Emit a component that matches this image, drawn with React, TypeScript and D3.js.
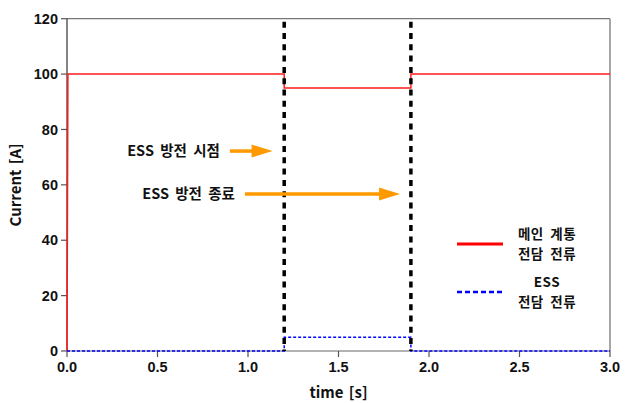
import React from "react";
import * as d3 from "d3";

// Step profile of the main-grid current and the ESS current
const mainTime = [0, 0.005, 1.2, 1.2, 1.9, 1.9, 3.0];
const mainCurrent = [0, 100, 100, 95, 95, 100, 100];
const essTime = [0, 1.2, 1.2, 1.9, 1.9, 3.0];
const essCurrent = [0, 0, 5, 5, 0, 0];

// Discharge start / end instants
const eventTimes = [1.2, 1.9];

const xTicks = [0, 0.5, 1.0, 1.5, 2.0, 2.5, 3.0];
const yTicks = [0, 20, 40, 60, 80, 100, 120];

// Annotation labels with arrows (data units)
const notes = [
  { label: "ESS 방전 시점", from: 0.9, to: 1.136, value: 72.2 },
  { label: "ESS 방전 종료", from: 0.983, to: 1.84, value: 56.7 },
];

const legendItems = [
  { lines: ["메인 계통", "전담 전류"], color: "#ff0000", dash: "none", width: 3 },
  { lines: ["ESS", "전담 전류"], color: "#0000ff", dash: "5,3", width: 2.5 },
];

const W = 625;
const H = 403;
const M = { left: 67, right: 15, top: 18.7, bottom: 52 };

const tickFont = "'Liberation Sans', Arial, sans-serif";
const krFont = "'Noto Sans CJK KR', 'Noto Sans', sans-serif";

export default function App() {
  const x = d3.scaleLinear().domain([0, 3]).range([M.left, W - M.right]);
  const y = d3.scaleLinear().domain([0, 120]).range([H - M.bottom, M.top]);

  const line = d3
    .line<[number, number]>()
    .x((d) => x(d[0]))
    .y((d) => y(d[1]));

  const mainPath = line(mainTime.map((t, i) => [t, mainCurrent[i]]))!;
  const essPath = line(essTime.map((t, i) => [t, essCurrent[i]]))!;

  const x0 = x(0);
  const x1 = x(3);
  const y0 = y(0);
  const y1 = y(120);

  return (
    <svg
      width={W}
      height={H}
      style={{ position: "absolute", left: 0, top: 0, background: "#fff" }}
    >
      {/* frame */}
      <line x1={x0} x2={x1} y1={y1} y2={y1} stroke="#777" strokeWidth={1.2} />
      <line x1={x1} x2={x1} y1={y1} y2={y0} stroke="#888" strokeWidth={1.5} />
      <line x1={x0} x2={x1} y1={y0} y2={y0} stroke="#666" strokeWidth={1.2} />
      <line x1={x0} x2={x0} y1={y1} y2={y0} stroke="#333" strokeWidth={1.2} />

      {/* y axis ticks */}
      {yTicks.map((v) => (
        <g key={"y" + v}>
          <line x1={x0 - 6} x2={x0} y1={y(v)} y2={y(v)} stroke="#555" strokeWidth={1.2} />
          <text
            x={x0 - 9}
            y={y(v)}
            dy="0.36em"
            textAnchor="end"
            fontFamily={tickFont}
            fontWeight="bold"
            fontSize={14.5}
            fill="#111"
          >
            {v}
          </text>
        </g>
      ))}

      {/* x axis ticks */}
      {xTicks.map((v) => (
        <g key={"x" + v}>
          <line x1={x(v)} x2={x(v)} y1={y0} y2={y0 + 6} stroke="#555" strokeWidth={1.2} />
          <text
            x={x(v)}
            y={y0 + 16}
            dy="0.36em"
            textAnchor="middle"
            fontFamily={tickFont}
            fontWeight="bold"
            fontSize={14.5}
            fill="#111"
          >
            {v.toFixed(1)}
          </text>
        </g>
      ))}

      {/* axis titles */}
      <text
        x={W / 2 + 26}
        y={393}
        dy="0.36em"
        textAnchor="middle"
        fontFamily={krFont}
        fontWeight="bold"
        fontSize={15}
        wordSpacing={2}
        fill="#111"
      >
        time [s]
      </text>
      <text
        transform={`translate(16,${(y0 + y1) / 2}) rotate(-90)`}
        dy="0.36em"
        textAnchor="middle"
        fontFamily={krFont}
        fontWeight="bold"
        fontSize={15}
        wordSpacing={2}
        fill="#111"
      >
        Current [A]
      </text>

      {/* current traces */}
      <path d={mainPath} fill="none" stroke="#ff1a1a" strokeWidth={1.5} />
      <path d={essPath} fill="none" stroke="#0000ff" strokeWidth={1.5} strokeDasharray="3,2" />

      {/* discharge start / end markers */}
      {eventTimes.map((t) => (
        <line
          key={"e" + t}
          x1={x(t)}
          x2={x(t)}
          y1={y1 + 3}
          y2={y0}
          stroke="#000"
          strokeWidth={3.5}
          strokeDasharray="6,5.3"
        />
      ))}

      {/* annotations */}
      {notes.map((n) => {
        const ya = y(n.value);
        const xs = x(n.from);
        const xe = x(n.to);
        const head = 21;
        return (
          <g key={n.label}>
            <text
              x={xs - 10}
              y={ya}
              dy="0.36em"
              textAnchor="end"
              fontFamily={krFont}
              fontWeight="bold"
              fontSize={14.5}
              wordSpacing={3}
              fill="#111"
            >
              {n.label}
            </text>
            <line x1={xs} x2={xe - head + 2} y1={ya} y2={ya} stroke="#ff9900" strokeWidth={3.5} />
            <polygon
              points={`${xe - head},${ya - 6.5} ${xe},${ya} ${xe - head},${ya + 6.5}`}
              fill="#ff9900"
            />
          </g>
        );
      })}

      {/* legend */}
      {legendItems.map((item, i) => {
        const cy = 244 + i * 48;
        return (
          <g key={"l" + i}>
            <line
              x1={457}
              x2={503}
              y1={cy}
              y2={cy}
              stroke={item.color}
              strokeWidth={item.width}
              strokeDasharray={item.dash}
            />
            {item.lines.map((s, j) => (
              <text
                key={j}
                x={547}
                y={cy - 10 + j * 20}
                dy="0.36em"
                textAnchor="middle"
                fontFamily={krFont}
                fontWeight="bold"
                fontSize={13.5}
                wordSpacing={3}
                letterSpacing={0.5}
                fill="#111"
              >
                {s}
              </text>
            ))}
          </g>
        );
      })}
    </svg>
  );
}
